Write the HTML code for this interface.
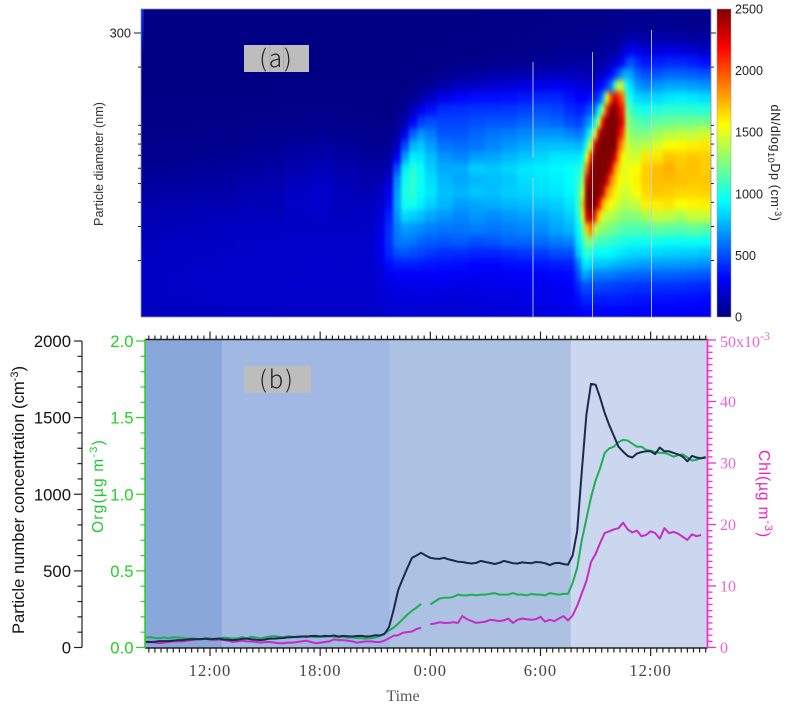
<!DOCTYPE html>
<html lang="en">
<head>
<meta charset="utf-8">
<title>Particle size distribution and concentrations</title>
<style>
html,body{margin:0;padding:0;background:#fff;}
svg{display:block;}
text{font-family:"Liberation Sans",sans-serif;}
.serif{font-family:"Liberation Serif",serif;}
.cjk{font-family:"Noto Sans CJK SC","Liberation Sans",sans-serif;font-weight:300;}
</style>
</head>
<body>
<svg id="chart" xmlns="http://www.w3.org/2000/svg" width="794" height="704" viewBox="0 0 794 704">
  <defs>
    <clipPath id="clipA"><rect x="141" y="9" width="570" height="308"/></clipPath>
    <clipPath id="clipB"><rect x="145" y="339.5" width="562.5" height="308.5"/></clipPath>
    <filter id="smooth" x="-5%" y="-5%" width="110%" height="110%" color-interpolation-filters="sRGB">
      <feGaussianBlur stdDeviation="1.5 3.5"/>
    </filter>
    <linearGradient id="jetBar" x1="0" y1="1" x2="0" y2="0">
      <stop offset="0" stop-color="#00007f"/>
      <stop offset="0.125" stop-color="#0000ff"/>
      <stop offset="0.375" stop-color="#00ffff"/>
      <stop offset="0.625" stop-color="#ffff00"/>
      <stop offset="0.875" stop-color="#ff0000"/>
      <stop offset="1" stop-color="#7f0000"/>
    </linearGradient>
    <linearGradient id="edgeGlow" x1="0" y1="0" x2="0" y2="1">
      <stop offset="0" stop-color="#0028e0"/>
      <stop offset="0.6" stop-color="#0010c0"/>
      <stop offset="1" stop-color="#00008c"/>
    </linearGradient>
  </defs>

  <g id="panelA">
    <rect x="141" y="9" width="570" height="308" fill="#00007f"/>
    <g clip-path="url(#clipA)">
      <g id="heatCells" filter="url(#smooth)"></g>
      <rect x="141" y="9" width="3" height="45" fill="url(#edgeGlow)"/>
      <g stroke="#c9cfe6" stroke-width="1" opacity="0.85">
        <line x1="533" x2="533" y1="62" y2="158"/>
        <line x1="533" x2="533" y1="178" y2="317"/>
        <line x1="592.5" x2="592.5" y1="52" y2="317"/>
        <line x1="651.5" x2="651.5" y1="30" y2="317"/>
      </g>
    </g>
    <rect x="141" y="9" width="570" height="308" fill="none" stroke="#8a90ad" stroke-width="0.8"/>
    <g id="ticksA"></g>
    <text x="131" y="37.5" font-size="12.8" text-anchor="end" fill="#222">300</text>
    <text transform="translate(103,164) rotate(-90)" font-size="12.6" text-anchor="middle" fill="#333">Particle diameter (nm)</text>
    <rect x="244" y="45" width="65" height="27" fill="#bdbdbd"/>
    <line x1="270" x2="270" y1="45" y2="72" stroke="#9da0ad" stroke-width="0.6"/>
    <line x1="283.5" x2="283.5" y1="45" y2="72" stroke="#9da0ad" stroke-width="0.6"/>
    <text class="cjk" x="276.5" y="67" font-size="24" letter-spacing="2" text-anchor="middle" fill="#222">(a)</text>

    <rect x="717" y="9" width="14" height="308" fill="url(#jetBar)" stroke="#999" stroke-width="0.5"/>
    <g id="colorbarLabels"></g>
    <text transform="translate(771,163) rotate(90)" font-size="12.6" letter-spacing="0.6" text-anchor="middle" fill="#222">dN/dlog<tspan font-size="9" dy="3">10</tspan><tspan dy="-3">Dp (cm</tspan><tspan font-size="9" dy="-4">-3</tspan><tspan dy="4">)</tspan></text>
  </g>

  <g id="panelB">
    <g id="bands"></g>
    <g id="lines" clip-path="url(#clipB)"></g>
    <g id="axesB"></g>
    <rect x="244" y="366" width="67" height="27" fill="#bdbdbd"/>
    <text class="cjk" x="277" y="388" font-size="24" letter-spacing="2" text-anchor="middle" fill="#222">(b)</text>
    <text transform="translate(24,500) rotate(-90)" font-size="16.6" text-anchor="middle" fill="#111">Particle number concentration (cm<tspan font-size="11" dy="-6">-3</tspan><tspan dy="6">)</tspan></text>
    <text transform="translate(103,486) rotate(-90)" font-size="15.5" letter-spacing="1.2" text-anchor="middle" fill="#22c832">Org(µg m<tspan font-size="11" dy="-6">-3</tspan><tspan dy="6">)</tspan></text>
    <text transform="translate(759,494) rotate(90)" font-size="15.5" letter-spacing="0.9" text-anchor="middle" fill="#f020c0">Chl(µg m<tspan font-size="11" dy="-6">-3</tspan><tspan dy="6">)</tspan></text>
    <text class="serif" x="403" y="701" font-size="16" text-anchor="middle" fill="#555">Time</text>
  </g>
</svg>

<script>
/* ---------- Panel (a) data: one inner array per time column, top to bottom by diameter ---------- */
const heatTimes = [8.9,10.2,11.5,12.8,14.1,15.4,16.7,18.05,19.35,20.66,21.3,21.75,22.2,22.6,23.05,23.5,23.9,24.8,25.67,26.54,27.4,28.3,29.15,30.03,30.9,31.66,32.1,32.3,32.53,32.75,32.97,33.2,33.4,33.62,33.84,34.06,34.28,34.5,34.7,34.93,35.26,35.7,36.35,37,37.65,38.3,38.96];
const heatDiameters = [371,322,279,243,211,184,160,139,120,104,90,79,68,60,52,45,39,34,29,25,22,19,17,14.6,12.6,11];
const heatValues = [
[14,14,14,14,14,14,14,16,18,20,24,30,38,50,70,90,110,125,140,150,160,165,165,170,165,155],
[14,14,14,14,14,14,15,16,18,20,26,32,40,55,75,95,120,135,150,165,165,170,175,175,170,160],
[14,14,14,14,14,14,15,16,18,22,28,34,45,60,80,100,125,145,155,165,170,175,180,175,175,165],
[14,14,14,14,14,14,15,16,20,24,30,36,50,70,85,105,125,150,160,170,175,175,180,180,175,165],
[14,14,14,14,14,14,15,18,20,26,34,48,65,80,105,120,135,155,165,175,175,180,180,185,180,170],
[14,14,14,14,14,14,15,18,22,28,38,55,75,90,115,130,140,155,165,175,180,180,180,185,180,170],
[14,14,14,14,14,14,16,20,24,30,45,70,95,120,150,170,175,170,170,180,180,185,185,190,185,175],
[14,14,14,14,14,15,16,20,26,34,50,80,110,140,165,185,185,175,170,180,185,190,190,190,185,175],
[14,14,14,14,14,15,16,20,24,30,45,65,90,115,135,150,155,160,170,180,185,185,190,190,185,175],
[14,14,14,14,14,15,16,18,20,26,36,50,70,90,110,130,150,165,175,185,190,190,190,190,185,175],
[14,14,14,14,14,15,15,16,18,22,30,42,60,85,120,160,190,220,250,270,260,240,220,210,200,185],
[15,15,15,15,15,15,15,18,20,25,35,50,80,130,200,280,340,380,420,430,400,340,280,240,220,200],
[15,15,15,15,15,15,18,20,30,50,90,170,300,500,650,700,720,680,620,600,500,380,300,260,230,210],
[15,15,15,15,15,16,20,30,60,120,250,480,700,900,980,1000,980,850,700,620,520,380,300,260,230,200],
[15,15,15,15,16,18,24,50,150,300,550,750,900,1030,1050,1040,980,820,680,600,500,380,300,250,220,200],
[15,15,15,15,16,20,35,100,260,460,680,800,880,950,960,950,900,780,650,560,480,370,300,260,230,200],
[15,15,15,16,18,25,60,170,350,500,620,700,780,820,860,880,830,720,620,540,450,360,300,260,230,200],
[15,15,15,16,20,40,110,260,420,480,520,600,680,730,760,780,760,680,600,520,420,350,300,250,220,200],
[15,15,16,18,25,60,160,320,430,480,520,580,640,740,720,760,700,640,600,540,420,340,290,250,220,200],
[16,16,18,20,30,80,180,340,440,500,560,600,700,820,760,800,720,680,620,500,400,320,280,250,230,210],
[16,18,20,24,40,100,200,340,440,520,600,640,720,800,780,780,740,650,600,520,400,320,280,260,240,220],
[18,18,20,26,45,110,220,350,450,520,620,680,760,840,800,820,760,680,620,560,420,340,290,260,240,220],
[18,20,22,30,50,120,240,370,470,560,650,720,800,880,860,830,780,700,640,560,450,350,300,270,250,230],
[20,22,25,35,60,140,270,400,500,580,680,780,840,900,880,860,800,720,660,580,460,360,300,270,260,240],
[22,24,30,45,70,150,280,400,480,560,680,780,880,920,900,880,820,760,720,620,500,380,320,280,270,250],
[25,28,35,50,80,150,260,350,420,500,640,780,880,960,940,920,880,820,760,640,500,390,330,300,280,260],
[25,28,35,50,80,140,230,300,380,460,600,750,880,1000,1040,1060,1060,1000,920,880,800,600,500,400,340,290],
[25,28,35,50,80,140,230,300,400,520,650,800,950,1150,1300,1500,1700,1500,1200,1050,950,850,700,500,400,320],
[25,28,35,50,80,130,210,320,460,640,820,1100,1500,1900,2300,2500,2500,2300,1700,1250,1100,900,700,500,400,320],
[25,28,35,50,80,130,210,350,520,720,1050,1500,2100,2500,2500,2500,2500,2400,1900,1250,1000,850,650,480,400,320],
[25,28,35,55,90,140,240,400,620,950,1500,2300,2500,2500,2500,2500,2500,2100,1450,1150,950,800,620,480,390,320],
[25,30,40,60,95,160,280,450,1000,1450,2300,2500,2500,2500,2500,2500,2200,1650,1300,1100,950,800,620,480,380,320],
[25,30,42,65,110,190,340,750,1300,2200,2500,2500,2500,2500,2500,2300,1750,1450,1280,1100,950,800,620,480,380,320],
[26,32,45,75,130,240,450,1500,2100,2500,2500,2500,2500,2500,2300,1850,1600,1400,1250,1080,950,800,620,470,380,320],
[28,35,50,85,160,320,620,2000,2500,2500,2500,2500,2500,2300,1900,1700,1550,1380,1220,1060,930,780,610,470,380,320],
[30,38,55,100,200,420,1100,2300,2500,2500,2500,2500,2250,1850,1700,1600,1480,1340,1200,1040,910,760,600,460,380,320],
[32,42,65,120,260,560,1500,2100,2300,2400,2250,2000,1800,1650,1580,1520,1420,1300,1170,1020,900,750,590,460,380,320],
[35,48,80,170,340,700,1300,1900,2100,2200,2000,1750,1550,1500,1500,1450,1380,1270,1150,1000,880,740,580,450,380,320],
[38,55,100,240,450,750,950,1100,1250,1350,1400,1450,1480,1500,1500,1450,1380,1260,1130,990,870,730,570,440,370,320],
[38,60,130,300,520,700,850,950,1080,1200,1280,1400,1450,1550,1550,1500,1400,1260,1130,980,860,720,560,440,370,310],
[38,55,120,260,420,570,700,850,1000,1150,1250,1350,1450,1550,1600,1550,1420,1260,1130,980,850,710,560,430,360,310],
[35,50,100,220,360,500,640,820,980,1120,1250,1400,1620,1680,1680,1650,1600,1350,1130,970,840,700,550,430,360,300],
[35,50,110,230,380,520,680,850,1020,1180,1320,1480,1620,1720,1720,1700,1600,1420,1170,980,840,700,550,430,350,300],
[30,50,110,250,400,560,720,880,1050,1200,1380,1550,1700,1760,1730,1680,1620,1400,1160,960,830,690,550,420,350,300],
[30,45,100,230,400,560,720,900,1050,1220,1400,1580,1680,1700,1720,1660,1560,1350,1150,960,820,690,540,420,340,290],
[28,40,90,210,380,540,700,880,1040,1220,1400,1600,1700,1720,1700,1660,1580,1420,1180,960,820,680,530,410,340,290],
[26,38,80,180,340,520,680,860,1030,1230,1450,1620,1680,1680,1700,1670,1590,1420,1150,950,800,660,520,400,330,280]
];
const diameterTicks = [300,200,100,90,80,70,60,50,40,30,20];
const colorbarTicks = [0,500,1000,1500,2000,2500];

/* ---------- Panel (b) data: samples every quarter hour from 08:30 ---------- */
const firstSampleHour = 8.5;
const sampleStepHours = 0.25;
const particleNumber = [38,36,38,42,42,42,45,48,48,52,54,55,55,58,54,56,58,52,50,48,50,56,58,54,50,48,52,58,58,60,62,66,68,70,72,70,75,76,72,76,74,78,72,76,74,72,75,76,72,74,80,78,88,134,245,375,448,520,585,600,618,600,585,580,578,585,575,568,560,558,552,548,552,565,558,552,545,552,565,558,550,548,555,552,550,558,555,550,538,550,552,545,540,600,760,1150,1520,1720,1715,1630,1530,1450,1380,1310,1278,1250,1240,1265,1275,1280,1280,1262,1305,1280,1280,1270,1260,1245,1215,1250,1240,1235,1240];
const orgValues = [.065,.068,.062,.06,.065,.06,.068,.066,.062,.058,.06,.056,.052,.06,.06,.055,.06,.065,.062,.058,.06,.068,.06,.07,.065,.06,.066,.072,.075,.07,.068,.074,.07,.066,.072,.075,.07,.068,.072,.07,.075,.07,.066,.07,.064,.066,.062,.06,.058,.06,.066,.075,.09,.11,.13,.155,.185,.215,.24,.26,.285,null,.28,.30,.32,.325,.325,.33,.345,.34,.34,.345,.34,.345,.345,.35,.355,.345,.345,.345,.355,.345,.345,.34,.35,.345,.345,.34,.355,.35,.345,.35,.35,.42,.52,.70,.84,.98,1.09,1.17,1.27,1.30,1.31,1.34,1.355,1.35,1.33,1.31,1.31,1.29,1.285,1.275,1.27,1.27,1.26,1.245,1.255,1.26,1.24,1.22,1.225,1.235,1.245];
const chlValues = [.9,.9,.8,.7,.8,.9,1,1,1,1.1,1.2,1.3,1.3,1.4,1.3,1.2,1.3,1.2,1.1,.9,1,1.1,1,1,.9,.8,.9,.9,.8,.7,.7,.8,.8,.9,1,1.1,.9,.7,.8,.9,1,1.3,1.2,1.2,1.1,1,.8,.9,1,1,.9,.9,1.1,1.5,1.9,2,2.4,2.5,2.6,3,3.2,null,3.8,3.9,4.1,4,4,4.1,4,5.1,4.6,4.3,4,4.1,4.2,4.5,4.4,4.3,4.4,4.7,4,4.5,4.7,4.6,4.5,4.6,5,4.2,4.5,4.3,4.7,5.1,4.4,5.2,6.8,8.8,10.8,13.9,15.2,17,18.6,18.9,19.2,19.4,20.3,19.2,18.7,19,18.1,18.3,18.9,18.6,17.7,19.4,18.6,18.8,18.5,18,17.5,18.4,18.1,18.3,null];
const bandHours = [8.3,12.65,21.8,31.66,39.2];
const bandColors = ["#8aa7d9","#a1b8e2","#adc1e3","#cbd7ef"];
const particleTicks = [0,500,1000,1500,2000];
const orgTicks = ["0.0","0.5","1.0","1.5","2.0"];
const chlTicks = [0,10,20,30,40];
const timeTickHours = [12,18,24,30,36];
const timeTickLabels = ["12:00","18:00","0:00","6:00","12:00"];

/* ---------- Scales ---------- */
const xTime = h => 210 + (h - 12) * 18.36;
const yDiameter = d => 33 + 193.5 * Math.log10(300 / d);
const yBar = v => 317 - v / 2500 * 308;
const yParticle = v => 647.5 - v / 2000 * 306.5;
const yOrg = v => 647.5 - v / 2 * 306.5;
const yChl = v => 647.5 - v / 50 * 307.5;

const NS = "http://www.w3.org/2000/svg";
function mk(tag, attrs, parent) {
  const el = document.createElementNS(NS, tag);
  for (const k in attrs) el.setAttribute(k, attrs[k]);
  parent.appendChild(el);
  return el;
}
function jet(v) {
  const t = Math.max(0, Math.min(1, v / 2500));
  const stops = [[0,0,0,127],[.125,0,0,255],[.375,0,255,255],[.625,255,255,0],[.875,255,0,0],[1,127,0,0]];
  for (let i = 1; i < stops.length; i++) {
    if (t <= stops[i][0]) {
      const a = stops[i-1], b = stops[i], f = (t - a[0]) / (b[0] - a[0]);
      return "rgb(" + [1,2,3].map(c => Math.round(a[c] + (b[c] - a[c]) * f)).join(",") + ")";
    }
  }
  return "rgb(127,0,0)";
}

/* ---------- Heatmap ---------- */
const heatGroup = document.getElementById("heatCells");
heatValues.forEach((column, c) => {
  const xc = xTime(heatTimes[c]);
  const left = c === 0 ? 120 : (xTime(heatTimes[c-1]) + xc) / 2;
  const right = c === heatTimes.length - 1 ? 735 : (xc + xTime(heatTimes[c+1])) / 2;
  column.forEach((value, r) => {
    const yc = yDiameter(heatDiameters[r]);
    const top = r === 0 ? -15 : (yDiameter(heatDiameters[r-1]) + yc) / 2;
    const bottom = r === heatDiameters.length - 1 ? 340 : (yc + yDiameter(heatDiameters[r+1])) / 2;
    const cell = mk("rect", {x: left, y: top, width: right - left + 0.4, height: bottom - top + 0.4, fill: jet(value)}, heatGroup);
    
    
  });
});

/* ---------- Panel (a) ticks ---------- */
const ticksA = document.getElementById("ticksA");
diameterTicks.forEach(d => {
  const y = yDiameter(d);
  const major = d === 300;
  const leftTick = mk("line", {x1: major ? 134 : 138, x2: 141, y1: y, y2: y, stroke: "#222", "stroke-width": 1}, ticksA);
  
  
  const rightTick = mk("line", {x1: 711, x2: major ? 716 : 714, y1: y, y2: y, stroke: "#222", "stroke-width": 1}, ticksA);
  
  
});
const barLabels = document.getElementById("colorbarLabels");
colorbarTicks.forEach(v => {
  const label = mk("text", {x: 735, y: yBar(v) + 4.5, "font-size": 12.6, fill: "#222"}, barLabels);
  label.textContent = String(v);
  
  
});

/* ---------- Panel (b) bands ---------- */
const bandGroup = document.getElementById("bands");
bandColors.forEach((color, i) => {
  const x0 = Math.max(145, xTime(bandHours[i]));
  const x1 = Math.min(707.5, xTime(bandHours[i+1]));
  const band = mk("rect", {x: x0, y: 339.5, width: x1 - x0, height: 308.5, fill: color}, bandGroup);
  
  
});

/* ---------- Panel (b) lines ---------- */
function linePath(values, yFn) {
  let d = "", pen = false;
  values.forEach((v, i) => {
    if (v === null) { pen = false; return; }
    const x = xTime(firstSampleHour + i * sampleStepHours);
    d += (pen ? "L" : "M") + x.toFixed(1) + " " + yFn(v).toFixed(1);
    pen = true;
  });
  return d;
}
const lineGroup = document.getElementById("lines");
const chlLine = mk("path", {d: linePath(chlValues, yChl), fill: "none", stroke: "#c82bc6", "stroke-width": 2, "stroke-linejoin": "round"}, lineGroup);


const orgLine = mk("path", {d: linePath(orgValues, yOrg), fill: "none", stroke: "#1fae52", "stroke-width": 2, "stroke-linejoin": "round"}, lineGroup);


const particleLine = mk("path", {d: linePath(particleNumber, yParticle), fill: "none", stroke: "#1b2a4c", "stroke-width": 2, "stroke-linejoin": "round"}, lineGroup);



/* ---------- Panel (b) axes ---------- */
const axes = document.getElementById("axesB");
function axisLine(x1, y1, x2, y2, color, width, name) {
  const l = mk("line", {x1, y1, x2, y2, stroke: color, "stroke-width": width}, axes);
  
  
}
function axisLabel(x, y, txt, anchor, size, color, name, serif) {
  const t = mk("text", {x, y, "text-anchor": anchor, "font-size": size, fill: color}, axes);
  if (serif) t.setAttribute("class", "serif");
  t.textContent = txt;
  
  
  return t;
}
/* particle axis */
axisLine(82, yParticle(2000), 82, yParticle(0), "#222", 1.2, "particle-axis-line");
for (let v = 0; v <= 2000; v += 100) {
  const major = v % 500 === 0;
  axisLine(major ? 74 : 77.5, yParticle(v), 82, yParticle(v), "#222", 1.2, "particle-axis-tick");
}
particleTicks.forEach(v => axisLabel(71, yParticle(v) + 6, String(v), "end", 16.7, "#111", "particle-tick-label"));
/* org axis */
for (let v = 0; v <= 20; v += 1) {
  const major = v % 5 === 0;
  axisLine(major ? 136 : 140.5, yOrg(v / 10), 145, yOrg(v / 10), "#2ed02e", 1.2, "org-axis-tick");
}
orgTicks.forEach(s => axisLabel(133.5, yOrg(parseFloat(s)) + 6, s, "end", 16.7, "#22d322", "org-tick-label"));
/* chl axis ticks */
for (let v = 0; v <= 50; v += 1) {
  const major = v % 10 === 0;
  axisLine(707.5, yChl(v), major ? 716 : 712.5, yChl(v), "#f030c8", 1.3, "chl-axis-tick");
}
chlTicks.forEach(v => axisLabel(720, yChl(v) + 5.5, String(v), "start", 16, "#ee62d2", "chl-tick-label", true));
const topLabel = axisLabel(720, yChl(50) + 7, "50x10", "start", 16, "#ee62d2", "chl-tick-label-top", true);
const topExp = document.createElementNS(NS, "tspan");
topExp.setAttribute("dy", "-7");
topExp.setAttribute("font-size", "12");
topExp.textContent = "-3";
topLabel.appendChild(topExp);
/* time ticks */
for (let n = 26; n <= 117; n += 1) {
  const hour = n / 3;
  const x = xTime(hour);
  if (x < 146 || x > 707) continue;
  const major = n % 18 === 0;
  axisLine(x, 648, x, major ? 656 : 652.5, "#222", 1.2, "time-axis-tick-bottom");
  axisLine(x, 339.5, x, major ? 331.5 : 335.5, "#222", 1.2, "time-axis-tick-top");
}
timeTickHours.forEach((h, i) => {
  const t = axisLabel(xTime(h), 676, timeTickLabels[i], "middle", 16.5, "#444", "time-tick-label", true);
  t.setAttribute("letter-spacing", "1");
});
axisLine(145, 648, 707.5, 648, "#222", 1.4, "time-axis-line-bottom");
axisLine(145, 339.5, 707.5, 339.5, "#222", 1.4, "time-axis-line-top");
axisLine(145, 339, 145, 648, "#2ed02e", 1.6, "org-axis-line");
axisLine(707.5, 339, 707.5, 648, "#f030c8", 1.8, "chl-axis-line");
</script>
</body>
</html>
